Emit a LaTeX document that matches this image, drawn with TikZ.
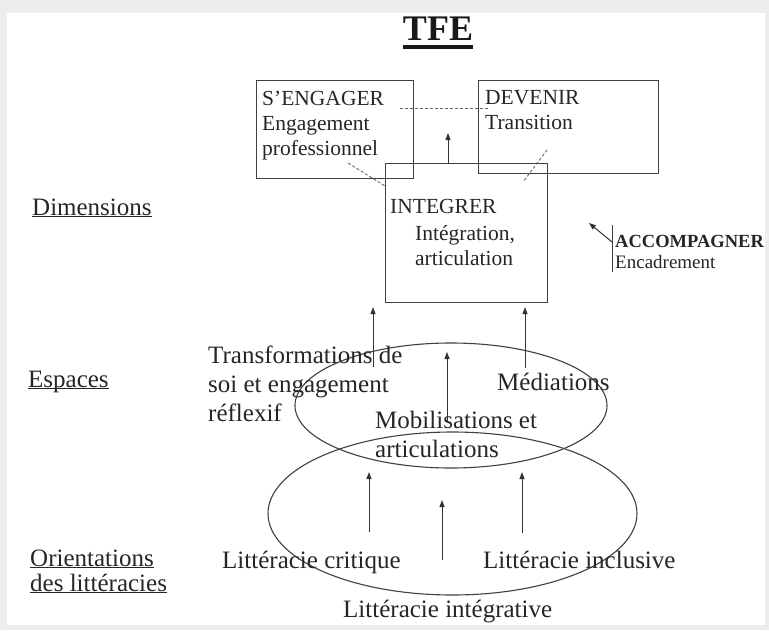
\documentclass[tikz,border=0pt]{standalone}
\usepackage{fontspec}
\setmainfont{Liberation Serif}
\usepackage{tikz}
\usetikzlibrary{shapes.geometric, arrows.meta}

\newcommand{\ulbl}[1]{\underline{\smash{#1}}}

\tikzset{
  box/.style={draw=black!75, line width=1.1pt, rectangle, inner sep=0pt, anchor=north west},
  oval/.style={draw=black!75, line width=1.1pt, ellipse, inner sep=0pt},
  boxtxt/.style={inner sep=0pt, align=left, text=black!85, font=\fontsize{21.5}{25}\selectfont},
  ovaltxt/.style={inner sep=0pt, align=left, text=black!85, font=\fontsize{25}{28.7}\selectfont},
  sidetxt/.style={inner sep=0pt, align=left, text=black!85, font=\fontsize{25}{25}\selectfont},
  arr/.style={-{Triangle[length=7pt,width=5pt]}, line width=1pt, draw=black!80},
  link/.style={densely dashed, line width=0.9pt, draw=black!60},
}

\begin{document}
\begin{tikzpicture}[x=1pt, y=-1pt]
    \useasboundingbox (0,0) rectangle (769,630);
    \fill[black!7] (0,0) rectangle (769,630);
    \fill[white] (7,13) rectangle (765,625);

    % title
    \node[inner sep=0pt, anchor=base, text=black!90, font=\fontsize{36}{36}\selectfont\bfseries] (tfe) at (438,40) {TFE};
    \draw[line width=3.5pt, black!90] ([yshift=-7pt]tfe.base west) -- ([yshift=-7pt]tfe.base east);

    % dimensions: three boxes
    \node[box, minimum width=157pt, minimum height=98pt] (engager) at (256,80) {};
    \node[box, minimum width=180pt, minimum height=93pt] (devenir) at (478,80) {};
    \node[box, minimum width=162pt, minimum height=139pt] (integrer) at (385,163) {};

    \node[boxtxt, anchor=north west] (engagerTxt) at (262,90.5) {S’ENGAGER\\Engagement\\professionnel};
    \node[boxtxt, anchor=north west] (devenirTxt) at (485,90.5) {DEVENIR\\Transition};
    \node[boxtxt, anchor=base west] (integrerTxt) at (390,213) {INTEGRER};
    \node[boxtxt, anchor=north west] (integrationTxt) at (415,225.5) {Intégration,\\articulation};

    % dashed links between the dimensions
    \coordinate (linkA) at (400,108);
    \coordinate (linkB) at (490,108);
    \coordinate (linkC) at (348,163);
    \coordinate (linkD) at (385,186);
    \coordinate (linkE) at (547,150);
    \coordinate (linkF) at (523,182);
    \draw[link] (linkA) -- (linkB);
    \draw[link] (linkC) -- (linkD);
    \draw[link] (linkE) -- (linkF);

    \coordinate (upTip) at (448,133);
    \draw[arr] (integrer.north -| upTip) -- (upTip);

    % accompagner
    \node[inner sep=0pt, anchor=base west, text=black!85, font=\fontsize{18.5}{21}\selectfont\bfseries] (accomp) at (615,247) {ACCOMPAGNER};
    \node[inner sep=0pt, anchor=base west, text=black!85, font=\fontsize{19}{21}\selectfont] (encadr) at (615,268) {Encadrement};
    \coordinate (barTop) at (612,225);
    \coordinate (barBot) at (612,272);
    \coordinate (barMid) at (612,242);
    \coordinate (accTip) at (589,223);
    \draw[line width=1pt, black!75] (barTop) -- (barBot);
    \draw[arr] (barMid) -- (accTip);

    % espaces and orientations
    \node[oval, minimum width=312pt, minimum height=125pt] (espaces) at (451,405.5) {};
    \node[oval, minimum width=369pt, minimum height=163pt] (orient) at (452.5,513.5) {};

    \node[ovaltxt, anchor=north west] (transfoTxt) at (208,346) {Transformations de\\soi et engagement\\réflexif};
    \node[ovaltxt, anchor=base west] (mediaTxt) at (497,390) {Médiations};
    \node[ovaltxt, anchor=north west] (mobilTxt) at (375,411) {Mobilisations et\\articulations};

    \node[ovaltxt, anchor=base west] (critTxt) at (222,568) {Littéracie critique};
    \node[ovaltxt, anchor=base west] (inclTxt) at (483,568) {Littéracie inclusive};
    \node[ovaltxt, anchor=base west] (integTxt) at (343,617) {Littéracie intégrative};

    % arrows up
    \coordinate (transfoTop) at (373,367);
    \coordinate (mediaTop) at (525,368);
    \coordinate (mobilTop) at (447,422);
    \coordinate (mobilTip) at (447,352);
    \draw[arr, shorten >=4pt] (transfoTop) -- (integrer.south -| transfoTop);
    \draw[arr, shorten >=4pt] (mediaTop) -- (integrer.south -| mediaTop);
    \draw[arr] (mobilTop) -- (mobilTip);

    \coordinate (critBot) at (369,532);
    \coordinate (critTip) at (369,472);
    \coordinate (integBot) at (442,560);
    \coordinate (integTip) at (442,500);
    \coordinate (inclBot) at (522,533);
    \coordinate (inclTip) at (522,472);
    \draw[arr] (critBot) -- (critTip);
    \draw[arr] (integBot) -- (integTip);
    \draw[arr] (inclBot) -- (inclTip);

    % side labels
    \node[sidetxt, anchor=base west] (dimLbl) at (32,215) {\ulbl{Dimensions}};
    \node[sidetxt, anchor=base west] (espLbl) at (28,387) {\ulbl{Espaces}};
    \node[sidetxt, anchor=north west] (oriLbl) at (30,566) {\ulbl{Orientations}\\\ulbl{des littéracies}};
\end{tikzpicture}
\end{document}
